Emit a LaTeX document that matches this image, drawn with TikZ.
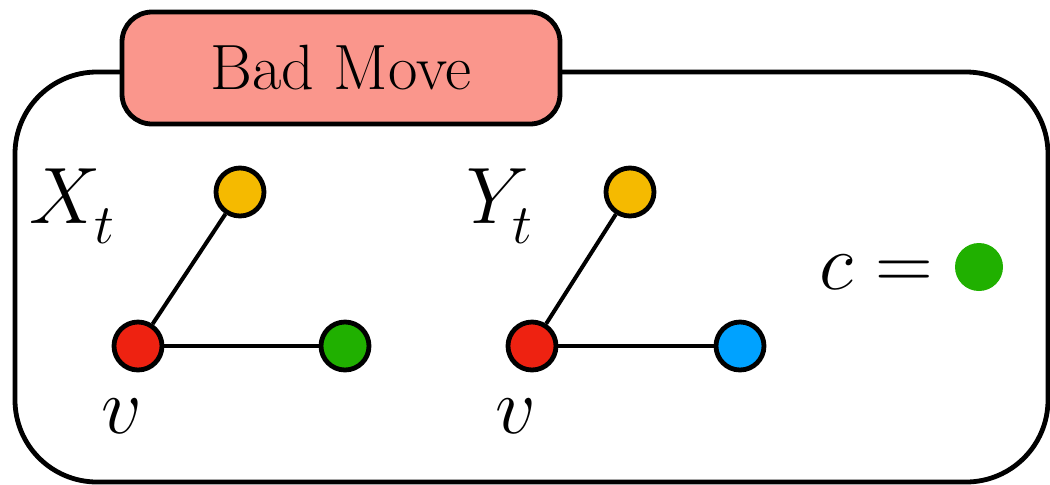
\RequirePackage{fix-cm}
\documentclass[tikz,border=0pt]{standalone}
\usepackage{fontspec}
\definecolor{badfill}{HTML}{FA968C}
\definecolor{cyellow}{HTML}{F5BA00}
\definecolor{cred}{HTML}{EE2211}
\definecolor{cgreen}{HTML}{20B000}
\definecolor{cblue}{HTML}{00A2FF}
\begin{document}
\begin{tikzpicture}[x=0.5pt,y=-0.5pt,
  vtx/.style={circle,draw=black,line width=2.4pt,minimum size=24pt,inner sep=0pt},
  edge/.style={line width=2pt},
  lbl/.style={inner sep=0pt,font=\fontsize{40}{48}\selectfont}]
\useasboundingbox (0,0) rectangle (1050,484);
\draw[line width=2.4pt, rounded corners=41pt] (15,72) rectangle (1048,482);
\node[draw,line width=2.4pt,fill=badfill,rounded corners=15pt,minimum width=219pt,minimum height=56pt,inner sep=0pt,font=\fontsize{32}{38}\selectfont] (title) at (341,68) {Bad Move};
% X graph
\node[vtx,fill=cyellow] (xa) at (240,192) {};
\node[vtx,fill=cred] (xv) at (138,346) {};
\node[vtx,fill=cgreen] (xb) at (345,346) {};
\draw[edge] (xv) -- (xa);
\draw[edge] (xv) -- (xb);
\node[lbl] (xl) at (72,206) {$X_{\raisebox{-4pt}{$\scriptstyle t$}}$};
\node[lbl] (xvl) at (122,416) {$v$};
% Y graph
\node[vtx,fill=cyellow] (ya) at (630,192) {};
\node[vtx,fill=cred] (yv) at (532,346) {};
\node[vtx,fill=cblue] (yb) at (740,346) {};
\draw[edge] (yv) -- (ya);
\draw[edge] (yv) -- (yb);
\node[lbl] (yl) at (500,206) {$Y_{\raisebox{-4pt}{$\scriptstyle t$}}$};
\node[lbl] (yvl) at (516,416) {$v$};
% c = dot
\node[lbl] (cl) at (876,272) {$c=$};
\node[circle,fill=cgreen,minimum size=24pt,inner sep=0pt] (cd) at (979,267) {};
\end{tikzpicture}
\end{document}
